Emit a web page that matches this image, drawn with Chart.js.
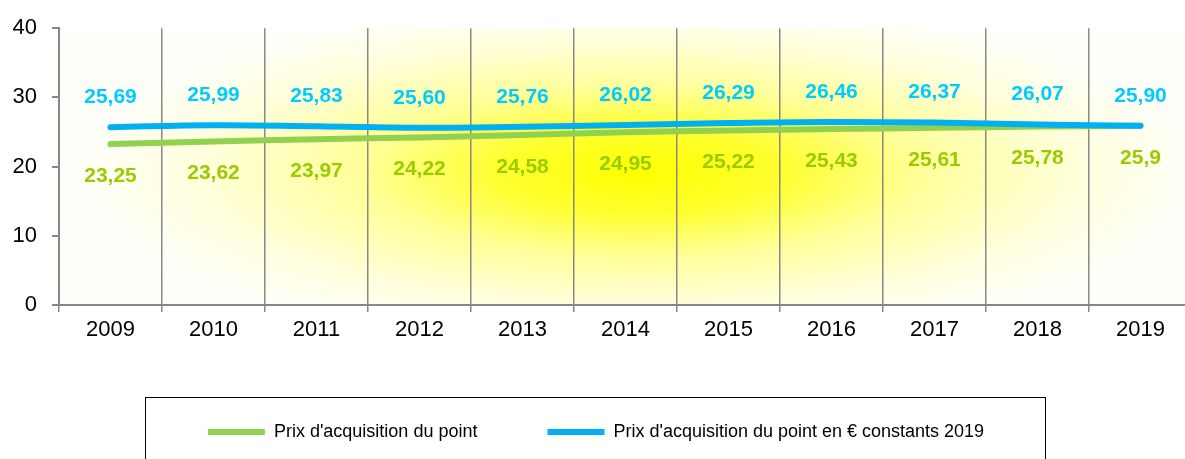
<!DOCTYPE html>
<html>
<head>
<meta charset="utf-8">
<script src="https://cdn.jsdelivr.net/npm/chart.js@4.4.1/dist/chart.umd.min.js"></script>
<style>
  html, body { margin: 0; padding: 0; background: #fff; overflow: hidden; }
</style>
</head>
<body>
<canvas id="lineChart" width="1192" height="459"></canvas>
<script>
// yearly values, point price and point price in constant 2019 euros
var years = ["2009", "2010", "2011", "2012", "2013", "2014", "2015", "2016", "2017", "2018", "2019"];
var prixPoint = [23.25, 23.62, 23.97, 24.22, 24.58, 24.95, 25.22, 25.43, 25.61, 25.78, 25.9];
var prixConstants = [25.69, 25.99, 25.83, 25.60, 25.76, 26.02, 26.29, 26.46, 26.37, 26.07, 25.90];
var yTicks = [0, 10, 20, 30, 40];

Chart.defaults.font.family = "'Liberation Sans', Arial, sans-serif";

// yellow glow behind the plot area
var plotGlow = {
  id: 'plotGlow',
  beforeDraw: function(chart) {
    var a = chart.chartArea, ctx = chart.ctx;
    var cx = 640, cy = 172;
    var rx = 560, ry = 170;
    ctx.save();
    ctx.beginPath();
    ctx.rect(a.left, a.top, a.right - a.left, a.bottom - a.top);
    ctx.clip();
    ctx.fillStyle = '#fff';
    ctx.fillRect(a.left, a.top, a.right - a.left, a.bottom - a.top);
    ctx.translate(cx, cy);
    ctx.scale(1, ry / rx);
    var g = ctx.createRadialGradient(0, 0, 0, 0, 0, rx);
    g.addColorStop(0, '#ffff00');
    g.addColorStop(0.25, '#ffff30');
    g.addColorStop(0.5, '#ffff99');
    g.addColorStop(0.78, '#ffffdc');
    g.addColorStop(1, '#fffffa');
    ctx.fillStyle = g;
    ctx.fillRect(-rx * 2, -rx * 2, rx * 4, rx * 4);
    ctx.restore();
  }
};

// value labels above / below each point
var pointLabels = {
  id: 'pointLabels',
  afterDatasetsDraw: function(chart) {
    var ctx = chart.ctx;
    ctx.save();
    ctx.font = 'bold 21px "Liberation Sans", Arial';
    ctx.textAlign = 'center';
    ctx.textBaseline = 'middle';
    chart.data.datasets.forEach(function(ds, i) {
      var meta = chart.getDatasetMeta(i);
      ctx.fillStyle = ds.labelColor;
      meta.data.forEach(function(pt, j) {
        var v = ds.data[j];
        var txt = (ds.labelDigits ? v.toFixed(ds.labelDigits) : String(v)).replace('.', ',');
        ctx.fillText(txt, pt.x, pt.y + ds.labelOffset);
      });
    });
    ctx.restore();
  }
};

// frame around the legend
var legendFrame = {
  id: 'legendFrame',
  afterDraw: function(chart) {
    var boxes = chart.legend.legendHitBoxes;
    if (!boxes || !boxes.length) return;
    var first = boxes[0], last = boxes[boxes.length - 1];
    var left = first.left - 63, right = last.left + last.width + 61;
    var top = first.top + first.height / 2 - 35;
    var ctx = chart.ctx;
    ctx.save();
    ctx.strokeStyle = '#000';
    ctx.lineWidth = 1;
    ctx.strokeRect(Math.round(left) + 0.5, Math.round(top) + 0.5, Math.round(right - left), 100);
    ctx.restore();
  }
};

var ctxL = document.getElementById('lineChart').getContext('2d');
var myLineChart = new Chart(ctxL, {
  type: 'line',
  data: {
    labels: years,
    datasets: [{
      label: "Prix d'acquisition du point",
      data: prixPoint,
      borderColor: '#92d050',
      backgroundColor: '#92d050',
      borderWidth: 6,
      borderCapStyle: 'round',
      pointRadius: 0,
      tension: 0.4,
      order: 1,
      labelColor: '#99cc00',
      labelOffset: 32,
      labelDigits: 0
    },
    {
      label: "Prix d'acquisition du point en € constants 2019",
      data: prixConstants,
      borderColor: '#00b0f0',
      backgroundColor: '#00b0f0',
      borderWidth: 6,
      borderCapStyle: 'round',
      pointRadius: 0,
      tension: 0.4,
      order: 0,
      labelColor: '#00ccff',
      labelOffset: -30,
      labelDigits: 2
    }]
  },
  options: {
    responsive: false,
    animation: false,
    devicePixelRatio: 1,
    layout: { padding: { top: 21, right: 0, bottom: 8, left: 0 } },
    plugins: {
      tooltip: { enabled: false },
      legend: {
        position: 'bottom',
        labels: {
          usePointStyle: true,
          pointStyle: 'line',
          pointStyleWidth: 57,
          padding: 70,
          color: '#000',
          font: { family: "'Liberation Sans Narrow', 'Arial Narrow', 'Liberation Sans', Arial", size: 18 },
          sort: function(a, b) { return a.datasetIndex - b.datasetIndex; }
        }
      }
    },
    scales: {
      x: {
        offset: true,
        grid: { offset: true, color: '#888', lineWidth: 1.5, tickLength: 7 },
        border: { color: '#888', width: 2 },
        ticks: { color: '#000', font: { size: 22 }, padding: 5, maxRotation: 0 },
        afterFit: function(scale) { scale.height = 48; }
      },
      y: {
        min: yTicks[0],
        max: yTicks[yTicks.length - 1],
        ticks: { stepSize: yTicks[1] - yTicks[0], color: '#000', font: { size: 22 }, padding: 15 },
        grid: { drawOnChartArea: false, color: '#888', lineWidth: 2, tickLength: 7 },
        border: { color: '#888', width: 2 },
        afterFit: function(scale) { scale.width = 59; }
      }
    }
  },
  plugins: [plotGlow, pointLabels, legendFrame]
});
</script>
</body>
</html>
